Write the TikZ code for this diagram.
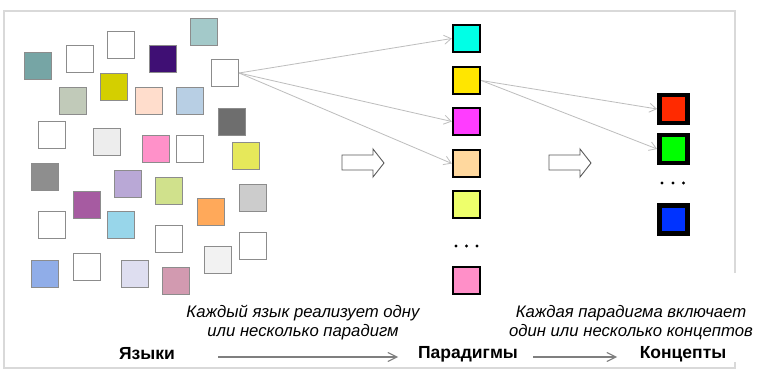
\documentclass[tikz,border=0pt]{standalone}
\usepackage{fontspec}
\setmainfont{Liberation Sans}
\usetikzlibrary{arrows.meta}

% palette of the scattered squares
\definecolor{qa}{HTML}{76A5A5}
\definecolor{qb}{HTML}{3F0F74}
\definecolor{qc}{HTML}{A3C9C9}
\definecolor{qd}{HTML}{C1CAB9}
\definecolor{qe}{HTML}{D4CF00}
\definecolor{qf}{HTML}{FFDDCC}
\definecolor{qg}{HTML}{B8CFE4}
\definecolor{qh}{HTML}{6E6E6E}
\definecolor{qi}{HTML}{EDEDED}
\definecolor{qj}{HTML}{FF91C9}
\definecolor{qk}{HTML}{E6E85A}
\definecolor{ql}{HTML}{8E8E8E}
\definecolor{qm}{HTML}{B9A8D6}
\definecolor{qn}{HTML}{D0E18C}
\definecolor{qo}{HTML}{CCCCCC}
\definecolor{qp}{HTML}{A65BA1}
\definecolor{qq}{HTML}{FFA95A}
\definecolor{qr}{HTML}{98D6EA}
\definecolor{qs}{HTML}{90ADE8}
\definecolor{qt}{HTML}{DEDEF0}
\definecolor{qu}{HTML}{D29AB0}
\definecolor{qv}{HTML}{F2F2F2}
% paradigm column
\definecolor{pa}{HTML}{00FFE6}
\definecolor{pb}{HTML}{FFE600}
\definecolor{pc}{HTML}{FF3CFF}
\definecolor{pd}{HTML}{FFD89E}
\definecolor{pe}{HTML}{EEFF6B}
\definecolor{pf}{HTML}{FF8FC8}
% concept column
\definecolor{ca}{HTML}{FF2A00}
\definecolor{cb}{HTML}{00FF00}
\definecolor{cc}{HTML}{0033FF}
% lines
\definecolor{framegray}{HTML}{D9D9D9}
\definecolor{linkgray}{HTML}{BDBDBD}
\definecolor{flowgray}{HTML}{7F7F7F}
\definecolor{blockgray}{HTML}{5A5A5A}

\tikzset{
  lsq/.style={draw=black!45, line width=1.1pt, minimum size=27pt, inner sep=0pt},
  msq/.style={draw=black, line width=2.4pt, minimum size=27pt, inner sep=0pt},
  csq/.style={draw=black, line width=4.8pt, minimum size=28pt, inner sep=0pt},
  link/.style={draw=linkgray, line width=0.8pt, -{Straight Barb[length=7pt,width=9pt]}},
  flow/.style={draw=flowgray, line width=1.1pt, -{Straight Barb[length=9pt,width=9pt]}},
  blockarrow/.style={draw=blockgray, line width=0.9pt, fill=white, line join=miter},
  title/.style={font=\fontsize{17.5}{20}\selectfont\bfseries, inner sep=0pt},
  note/.style={font=\fontsize{16.7}{19.5}\selectfont\itshape, align=center, inner sep=0pt},
  dot/.style={fill=black},
}

\begin{document}
\begin{tikzpicture}[x=1pt,y=-1pt]
  \path[fill=white] (0,0) rectangle (759,379);
  \useasboundingbox (0,0) rectangle (759,379);

  % frame
  \draw[framegray, line width=1.6pt] (735,273) -- (735,11) -- (4,11) -- (4,368) -- (735,368) -- (735,362);

  % scattered squares: languages
  \foreach \n/\x/\y/\c in {
     1/38/66/qa,   2/80/59/white,  3/121/45/white, 4/163/59/qb,
     5/204/32/qc,  6/225/73/white, 7/73/101/qd,    8/114/87/qe,
     9/149/101/qf, 10/190/101/qg,  11/232/122/qh,  12/52/135/white,
     13/107/142/qi, 14/156/149/qj, 15/190/149/white, 16/246/156/qk,
     17/45/177/ql, 18/128/184/qm,  19/169/191/qn,  20/253/198/qo,
     21/87/205/qp, 22/211/212/qq,  23/52/225/white, 24/121/225/qr,
     25/169/239/white, 26/253/246/white, 27/45/274/qs, 28/87/267/white,
     29/135/274/qt, 30/176/281/qu, 31/218/260/qv}
    \node[lsq, fill=\c] (l\n) at (\x,\y) {};

  % paradigms
  \node[msq, fill=pa] (m1) at (466.5,38.5) {};
  \node[msq, fill=pb] (m2) at (466.5,80.5) {};
  \node[msq, fill=pc] (m3) at (466.5,121.5) {};
  \node[msq, fill=pd] (m4) at (466.5,163.5) {};
  \node[msq, fill=pe] (m5) at (466.5,204.5) {};
  \node[msq, fill=pf] (m6) at (466.5,280.5) {};
  \foreach \x in {456,466.5,477} \fill[dot] (\x,246) circle (1.7);

  % concepts
  \node[csq, fill=ca] (c1) at (673.5,109) {};
  \node[csq, fill=cb] (c2) at (673.5,149) {};
  \node[csq, fill=cc] (c3) at (673.5,219.5) {};
  \foreach \x in {662,673,683.5} \fill[dot] (\x,183) circle (1.7);

  % links
  \draw[link] (l6.east) -- (m1.west);
  \draw[link] (l6.east) -- (m3.west);
  \draw[link] (l6.east) -- (m4.west);
  \draw[link] (m2.east) -- (c1.west);
  \draw[link] (m2.east) -- (c2.west);

  % hollow block arrows
  \draw[blockarrow] (342,155) -- (373,155) -- (373,149) -- (384,163) -- (373,177) -- (373,170) -- (342,170) -- cycle;
  \draw[blockarrow] (549,155) -- (580,155) -- (580,149) -- (591,163) -- (580,177) -- (580,170) -- (549,170) -- cycle;

  % captions
  \node[title] (lang) at (147,354) {Языки};
  \node[title] (para) at (468,354) {Парадигмы};
  \node[title] (conc) at (683,354) {Концепты};
  \node[note] (n1) at (303,322.5) {Каждый язык реализует одну\\или несколько парадигм};
  \node[note] (n2) at (631,322.5) {Каждая парадигма включает\\один или несколько концептов};

  \coordinate (f1s) at (218,357);
  \coordinate (f1e) at (398,357);
  \coordinate (f2s) at (533,357);
  \coordinate (f2e) at (617,357);
  \draw[flow] (f1s) -- (f1e);
  \draw[flow] (f2s) -- (f2e);
\end{tikzpicture}
\end{document}
